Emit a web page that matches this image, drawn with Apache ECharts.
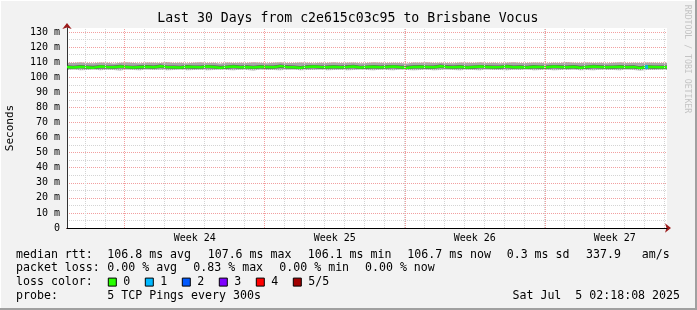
<!DOCTYPE html>
<html><head><meta charset="utf-8">
<script src="https://cdn.jsdelivr.net/npm/echarts@6/dist/echarts.min.js"></script>
<style>html,body{margin:0;padding:0;background:#f2f2f2}#c{width:697px;height:310px}</style>
</head><body><div id="c"></div>
<script>
// ---- data ----
const sampleStepDays = 1 / 3; // one consolidated value every 8 hours
const medianRtt = [
106.9,106.5,107.0,106.7,106.4,107.1,106.8,106.6,107.2,106.9,
106.5,106.8,107.0,106.6,107.3,106.9,106.7,106.5,107.0,106.8,
106.6,107.1,106.9,106.4,106.8,107.2,106.7,106.9,106.5,107.0,
106.8,106.6,107.4,106.9,106.7,106.3,106.9,107.1,106.8,106.6,
107.0,106.7,106.9,107.2,106.5,106.8,107.0,106.6,106.9,107.1,
106.7,106.4,106.9,107.0,106.8,106.6,107.3,106.9,106.7,107.0,
106.5,106.8,107.1,106.9,106.6,106.8,107.2,106.7,106.9,106.5,
107.0,106.8,106.6,107.1,106.9,106.7,107.0,106.4,106.8,107.2,
106.9,106.6,106.8,107.0,106.7,106.9,106.1,107.0,106.8,106.6,
106.7];
const pingMax = [
109.6,109.4,109.9,109.5,109.3,109.8,109.6,109.2,109.7,110.0,
109.5,109.3,109.8,109.6,109.4,110.1,109.5,109.7,109.3,109.6,
109.9,109.4,109.6,109.2,109.8,109.5,109.7,109.4,110.0,109.6,
109.3,109.7,109.9,109.5,109.4,109.8,109.6,109.3,109.7,109.5,
110.0,109.4,109.6,109.8,109.3,109.5,109.9,109.6,109.4,109.7,
109.5,109.2,109.8,109.6,109.9,109.4,109.7,109.5,109.3,109.8,
109.6,109.4,110.0,109.5,109.7,109.3,109.6,109.9,109.5,109.4,
109.8,109.6,109.3,109.7,109.5,110.1,109.6,109.4,109.8,109.5,
109.7,109.3,109.6,109.9,109.5,109.7,109.4,109.8,109.6,109.5,
109.7];
const pingMin = [
104.8,105.1,104.6,104.9,105.2,104.7,105.0,104.8,104.5,105.1,
104.9,104.7,105.2,104.8,105.0,104.6,104.9,105.1,104.7,104.8,
105.0,104.6,104.9,105.2,104.8,104.7,105.0,104.9,104.5,105.1,
104.8,104.9,104.6,105.0,105.2,104.7,104.9,104.8,105.1,104.6,
104.9,105.0,104.7,104.8,105.2,104.9,104.6,105.0,104.8,104.7,
105.1,104.9,104.6,104.8,105.0,104.7,104.9,105.2,104.8,104.6,
105.0,104.9,104.7,105.1,104.8,104.9,104.6,105.0,104.8,105.2,
104.7,104.9,105.0,104.6,104.8,104.9,105.1,104.7,104.9,104.6,
105.0,104.8,104.9,104.7,105.1,104.8,104.5,104.9,104.8,105.0,
104.9];
const ping4th = [
108.0,107.7,108.2,107.9,107.6,108.1,107.8,107.9,108.3,107.8,
107.7,108.0,108.2,107.8,108.4,107.9,107.8,107.6,108.1,107.9,
107.8,108.2,108.0,107.6,107.9,108.3,107.8,108.0,107.7,108.1,
107.9,107.8,108.4,108.0,107.8,107.5,108.0,108.2,107.9,107.8,
108.1,107.8,108.0,108.3,107.7,107.9,108.1,107.8,108.0,108.2,
107.8,107.6,108.0,108.1,107.9,107.8,108.4,108.0,107.8,108.1,
107.7,107.9,108.2,108.0,107.8,107.9,108.3,107.8,108.0,107.7,
108.1,107.9,107.8,108.2,108.0,107.8,108.1,107.6,107.9,108.3,
108.0,107.8,107.9,108.1,107.8,108.0,107.4,108.1,107.9,107.8,
107.8];
const ping2nd = [
105.8,105.6,106.0,105.7,105.5,105.9,105.8,105.6,106.0,105.8,
105.5,105.7,105.9,105.6,106.1,105.8,105.7,105.5,105.9,105.7,
105.6,106.0,105.8,105.4,105.7,106.0,105.7,105.8,105.5,105.9,
105.7,105.6,106.1,105.8,105.7,105.3,105.8,106.0,105.7,105.6,
105.9,105.7,105.8,106.0,105.5,105.7,105.9,105.6,105.8,106.0,
105.7,105.4,105.8,105.9,105.7,105.6,106.1,105.8,105.7,105.9,
105.5,105.7,106.0,105.8,105.6,105.7,106.0,105.7,105.8,105.5,
105.9,105.7,105.6,106.0,105.8,105.7,105.9,105.4,105.7,106.0,
105.8,105.6,105.7,105.9,105.7,105.8,105.2,105.9,105.7,105.6,
105.7];
const lossDays = [28.98];
const lossRtt = [106.8];
const lossLevel = [1];
const weekLabels = ['Week 24', 'Week 25', 'Week 26', 'Week 27'];
const weekStartDays = [2.885, 9.885, 16.885, 23.885];
const firstMidnightDay = 0.885;
const spanDays = 30;
const yMaxMs = 132.7;
const yStepMs = 10;
const lossColors = ['#26ff00', '#00b8ff', '#0059ff', '#7e00ff', '#ff0000', '#a10000'];
const lossColorLabels = ['0', '1', '2', '3', '4', '5/5'];
const titleText = 'Last 30 Days from c2e615c03c95 to Brisbane Vocus';
const statRows = [
  ['median rtt:', '106.8 ms avg', '107.6 ms max', '106.1 ms min', '106.7 ms now', '0.3 ms sd', '337.9   am/s'],
  ['packet loss:', '0.00 % avg', '0.83 % max', '0.00 % min', '0.00 % now']
];
const probeText = ['probe:', '5 TCP Pings every 300s'];
const dateText = 'Sat Jul  5 02:18:08 2025';

// ---- build ----
const xs = medianRtt.map((_, i) => i * sampleStepDays);
const pair = arr => arr.map((v, i) => [xs[i], v]);
const weekCenters = weekStartDays.map(d => d + 3.5);
const midnights = [];
for (let d = firstMidnightDay; d < spanDays; d += 1) midnights.push(d);

const MONO = '"DejaVu Sans Mono", monospace';
const chart = echarts.init(document.getElementById('c'), null, {renderer: 'canvas'});

function bandPoints(api, upper, lower) {
  const pts = [];
  for (let i = 0; i < xs.length; i++) pts.push(api.coord([xs[i], upper[i]]));
  for (let i = xs.length - 1; i >= 0; i--) pts.push(api.coord([xs[i], lower[i]]));
  return pts;
}

const graphics = [];
graphics.push({type: 'rect', shape: {x: 0, y: 0, width: 697, height: 1}, style: {fill: '#ffffff'}, silent: true});
graphics.push({type: 'rect', shape: {x: 0, y: 0, width: 1, height: 310}, style: {fill: '#ffffff'}, silent: true});
graphics.push({type: 'rect', shape: {x: 0, y: 308, width: 697, height: 2}, style: {fill: '#a0a0a0'}, silent: true});
graphics.push({type: 'rect', shape: {x: 695, y: 0, width: 2, height: 310}, style: {fill: '#a0a0a0'}, silent: true});
graphics.push({type: 'text', x: 347.8, y: 19, style: {text: titleText, font: '13.2px ' + MONO, fill: '#000',
  textAlign: 'center', textVerticalAlign: 'middle'}});
graphics.push({type: 'text', x: 10.5, y: 128, rotation: Math.PI / 2, style: {text: 'Seconds', font: '11px ' + MONO,
  fill: '#000', textAlign: 'center', textVerticalAlign: 'middle'}});
graphics.push({type: 'text', x: 687.5, y: 59, rotation: -Math.PI / 2, style: {text: 'RRDTOOL / TOBI OETIKER',
  font: '8.2px ' + MONO, fill: '#c4c4c4', textAlign: 'center', textVerticalAlign: 'middle'}});
const rowY = [254.8, 268.4, 282.1, 295.7];
const medianXs = [16, 107.3, 207.7, 307.7, 407.3, 506.7, 586];
const lossXs = [16, 107.3, 193.3, 279.3, 365];
statRows[0].forEach((t, i) => graphics.push({type: 'text', x: medianXs[i], y: rowY[0],
  style: {text: t, font: '11.6px ' + MONO, fill: '#000', textVerticalAlign: 'middle'}}));
statRows[1].forEach((t, i) => graphics.push({type: 'text', x: lossXs[i], y: rowY[1],
  style: {text: t, font: '11.6px ' + MONO, fill: '#000', textVerticalAlign: 'middle'}}));
graphics.push({type: 'text', x: 16, y: rowY[2], style: {text: 'loss color:', font: '11.6px ' + MONO, fill: '#000', textVerticalAlign: 'middle'}});
lossColors.forEach((c, i) => {
  const bx = 108.3 + i * 37;
  graphics.push({type: 'rect', shape: {x: bx, y: rowY[2] - 4, width: 8, height: 8},
    style: {fill: c, stroke: '#000', lineWidth: 1}});
  graphics.push({type: 'text', x: bx + 15, y: rowY[2], style: {text: lossColorLabels[i], font: '11.6px ' + MONO, fill: '#000', textVerticalAlign: 'middle'}});
});
graphics.push({type: 'text', x: 16, y: rowY[3], style: {text: probeText[0], font: '11.6px ' + MONO, fill: '#000', textVerticalAlign: 'middle'}});
graphics.push({type: 'text', x: 107.3, y: rowY[3], style: {text: probeText[1], font: '11.6px ' + MONO, fill: '#000', textVerticalAlign: 'middle'}});
graphics.push({type: 'text', x: 680, y: rowY[3], style: {text: dateText, font: '11.6px ' + MONO, fill: '#000', textAlign: 'right', textVerticalAlign: 'middle'}});

const option = {
  animation: false,
  backgroundColor: '#f2f2f2',
  grid: {left: 67, right: 30, top: 28, bottom: 82, show: true, backgroundColor: '#ffffff', borderWidth: 0},
  xAxis: [
    {type: 'value', min: 0, max: spanDays, z: 3,
      axisLine: {show: true, lineStyle: {color: '#000', width: 1}},
      axisTick: {show: false}, splitLine: {show: false},
      axisLabel: {customValues: weekCenters, formatter: (v, i) => weekLabels[weekCenters.indexOf(v)] || weekLabels[i] || '',
        fontFamily: MONO, fontSize: 10, color: '#000', margin: 5}},
    {type: 'value', min: 0, max: spanDays, position: 'bottom', z: 1,
      axisLine: {show: true, symbol: ['none', 'arrow'], symbolSize: [7, 6], symbolOffset: [0, 4], lineStyle: {color: '#9b1a1a'}},
      axisTick: {show: false}, axisLabel: {show: false}, splitLine: {show: false}}
  ],
  yAxis: [
    {type: 'value', min: 0, max: yMaxMs, interval: yStepMs, z: 3,
      axisLine: {show: true, lineStyle: {color: '#333', width: 1}},
      axisTick: {show: false},
      axisLabel: {formatter: v => v === 0 ? '0' : v + ' m', fontFamily: MONO, fontSize: 10, color: '#000', margin: 7,
        showMaxLabel: false},
      splitLine: {show: true, showMinLine: false, showMaxLine: false, lineStyle: {color: '#f2a0a0', type: [1, 1], width: 1}},
      minorTick: {show: false, splitNumber: 2},
      minorSplitLine: {show: true, lineStyle: {color: '#d4d4d4', type: [1, 1], width: 1}}},
    {type: 'value', min: 0, max: yMaxMs, position: 'left', z: 1,
      axisLine: {show: true, symbol: ['none', 'arrow'], symbolSize: [7, 6], symbolOffset: [0, 5], lineStyle: {color: '#9b1a1a'}},
      axisTick: {show: false}, axisLabel: {show: false}, splitLine: {show: false}}
  ],
  graphic: graphics,
  series: [
    {type: 'line', data: [], symbol: 'none', silent: true, z: 1,
      markLine: {silent: true, symbol: 'none', animation: false, label: {show: false},
        lineStyle: {color: '#d4d4d4', type: [1, 1], width: 1},
        data: midnights.map(d => ({xAxis: d}))}},
    {type: 'line', data: [], symbol: 'none', silent: true, z: 1,
      markLine: {silent: true, symbol: 'none', animation: false, label: {show: false},
        lineStyle: {color: '#f2a0a0', type: [1, 1], width: 1},
        data: weekStartDays.map(d => ({xAxis: d}))}},
    {type: 'custom', z: 2, silent: true, data: [[0, 0]],
      renderItem: (params, api) => ({type: 'group', children: [
        {type: 'polygon', shape: {points: bandPoints(api, pingMax, pingMin)}, style: {fill: '#a8a8a8'}},
        {type: 'polygon', shape: {points: bandPoints(api, ping4th, ping2nd)}, style: {fill: '#5a5a5a'}}
      ]})},
    {type: 'line', data: pair(medianRtt), symbol: 'none', z: 4, silent: true,
      lineStyle: {color: lossColors[0], width: 2.5}},
    {type: 'scatter', data: lossDays.map((d, i) => [d, lossRtt[i]]), symbol: 'rect', symbolSize: [3, 4], z: 5, silent: true,
      itemStyle: {color: p => lossColors[lossLevel[p.dataIndex]]}}
  ]
};
chart.setOption(option);
</script></body></html>
